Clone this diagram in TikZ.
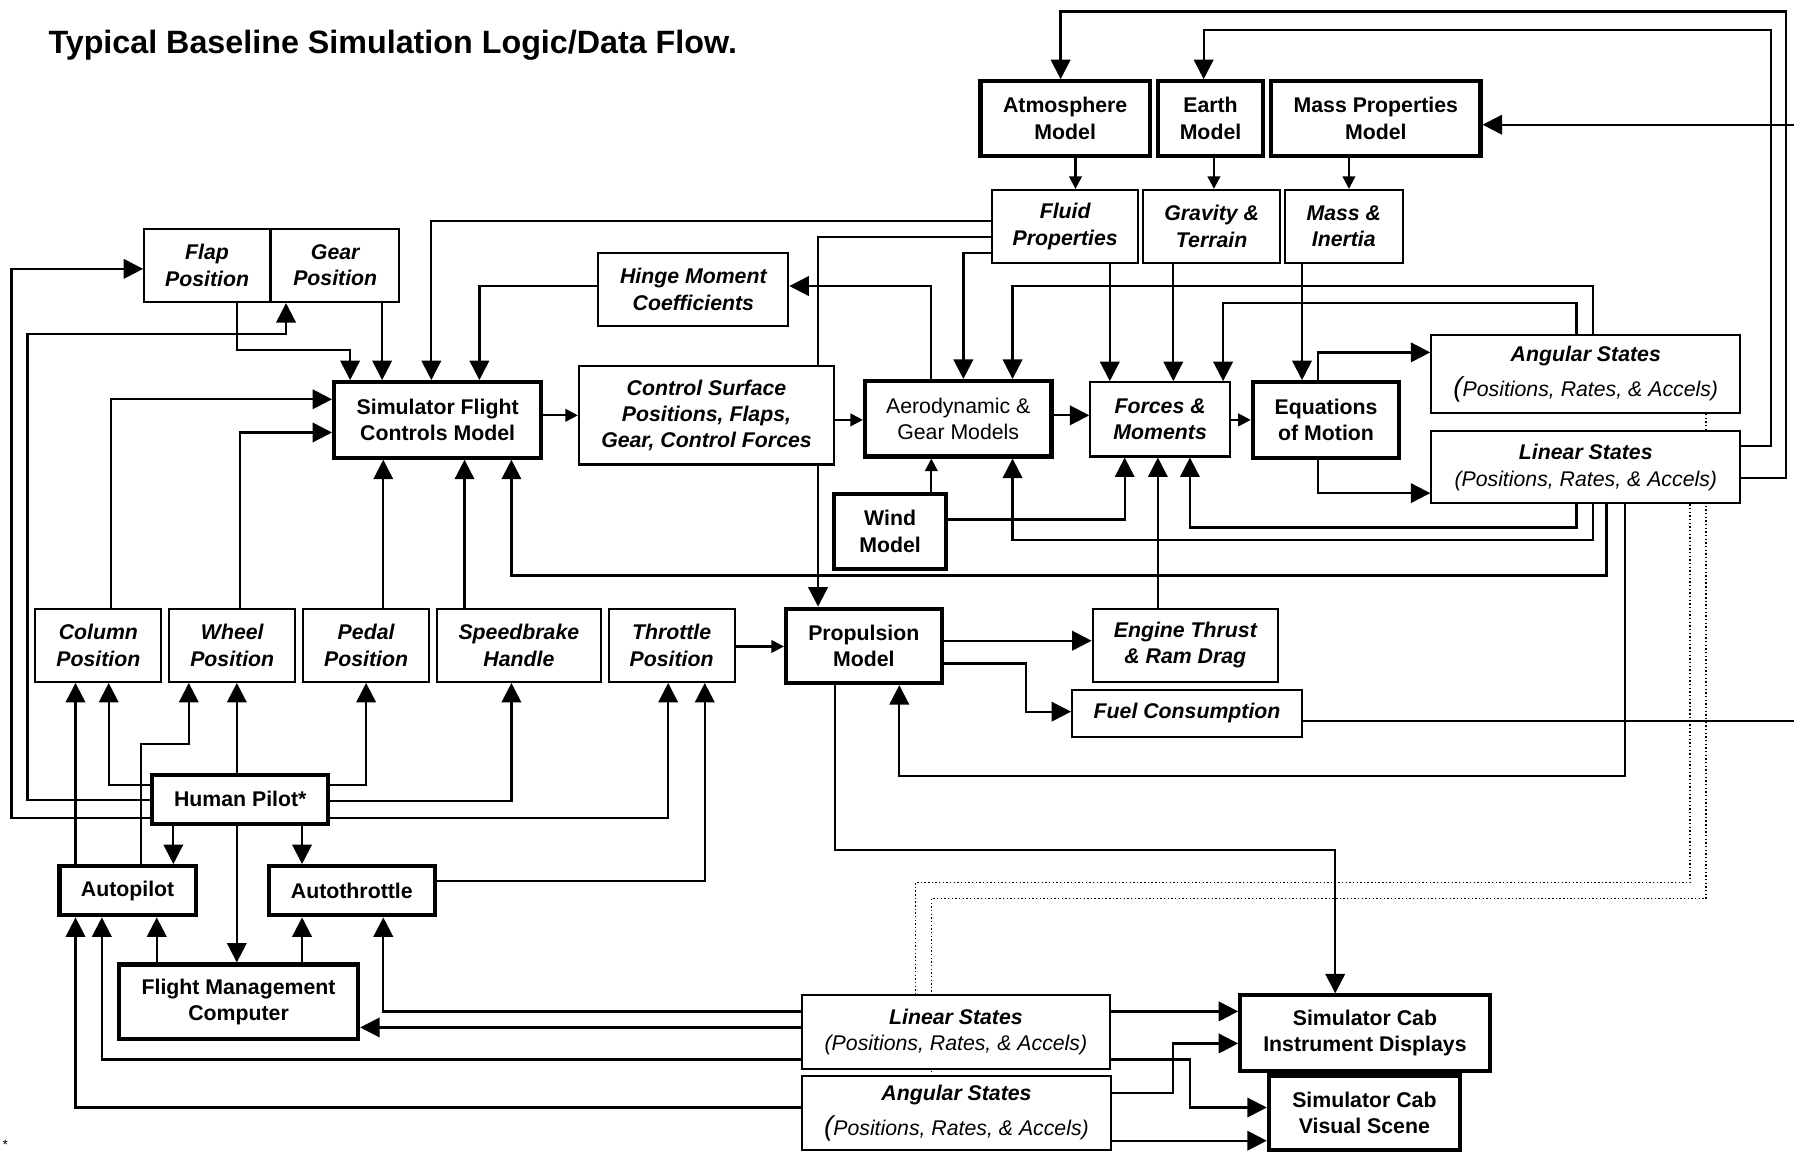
\documentclass[tikz,border=0pt]{standalone}
\usepackage{fontspec}
\setmainfont{Liberation Sans}
\usetikzlibrary{arrows.meta,calc}
\pgfdeclarelayer{bg}
\pgfsetlayers{bg,main}
\begin{document}
\begin{tikzpicture}[x=0.5pt,y=-0.5pt,
  box/.style={draw, fill=white, inner sep=0pt, align=center, font=\fontsize{9.3}{11.5}\selectfont},
  tbox/.style={box, line width=0.9pt},
  kbox/.style={box, line width=1.8pt},
  bb/.style={font=\fontsize{9.3}{11.5}\selectfont\bfseries},
  bi/.style={font=\fontsize{9.3}{11.5}\selectfont\bfseries\itshape},
  sz/.style 2 args={minimum width=#1*0.5pt, minimum height=#2*0.5pt},
  con/.style={line width=1pt},
  larr/.style={con, -{Triangle[length=8.5pt,width=8.5pt]}},
  sarr/.style={con, -{Triangle[length=5.5pt,width=5.5pt]}},
  dotl/.style={line width=0.6pt, densely dotted}]
\useasboundingbox (0,0) rectangle (1568,1007);

\node[anchor=base west, inner sep=0pt, font=\fontsize{14.1}{16}\selectfont\bfseries] (title) at (42,47) {Typical Baseline Simulation Logic/Data Flow.};
\node[anchor=north west, inner sep=0pt, font=\fontsize{6}{6}\selectfont] (fn) at (2,996) {*};

% top row
\node[kbox,bb,sz={148}{65}] (atm) at (931,103.5) {Atmosphere\\Model};
\node[kbox,bb,sz={92}{65}] (earth) at (1058,103.5) {Earth\\Model};
\node[kbox,bb,sz={183}{65}] (massp) at (1202.5,103.5) {Mass Properties\\Model};
\node[tbox,bi,sz={128}{64}] (fluid) at (931,198) {Fluid\\Properties};
\node[tbox,bi,sz={120}{64}] (grav) at (1059,198) {Gravity \&\\Terrain};
\node[tbox,bi,sz={103}{64}] (massi) at (1174.5,198) {Mass \&\\Inertia};

\node[tbox,bi,sz={110}{64}] (flap) at (181,232) {Flap\\Position};
\node[tbox,bi,sz={112}{64}] (gear) at (293,232) {Gear\\Position};
\node[tbox,bi,sz={166}{64}] (hinge) at (606,253) {Hinge Moment\\Coefficients};

\node[kbox,bb,sz={181}{66}] (sfcm) at (382.5,367) {Simulator Flight\\Controls Model};
\node[tbox,bi,sz={223}{86}] (cs) at (617.5,363) {Control Surface\\Positions, Flaps,\\Gear, Control Forces};
\node[kbox,sz={163}{66}] (aero) at (837.5,366) {Aerodynamic \&\\Gear Models};
\node[tbox,bi,sz={122}{65}] (forces) at (1014,366.5) {Forces \&\\Moments};
\node[kbox,bb,sz={128}{66}] (eom) at (1159,367) {Equations\\of Motion};
\node[tbox,sz={270}{68}] (angT) at (1386,327) {{\bfseries\itshape Angular States}\\[3.5pt]{\itshape{\fontsize{12}{12}\selectfont(}Positions, Rates, \& Accels)}};
\node[tbox,sz={270}{63}] (linT) at (1386,408.5) {{\bfseries\itshape Linear States}\\{\itshape (Positions, Rates, \& Accels)}};
\node[kbox,bb,sz={98}{65}] (wind) at (778,464.5) {Wind\\Model};

\node[tbox,bi,sz={110}{64}] (col) at (86,564) {Column\\Position};
\node[tbox,bi,sz={110}{64}] (wheel) at (203,564) {Wheel\\Position};
\node[tbox,bi,sz={110}{64}] (pedal) at (320,564) {Pedal\\Position};
\node[tbox,bi,sz={143}{64}] (speed) at (453.5,564) {Speedbrake\\Handle};
\node[tbox,bi,sz={110}{64}] (throttle) at (587,564) {Throttle\\Position};
\node[kbox,bb,sz={136}{65}] (prop) at (755,564.5) {Propulsion\\Model};
\node[tbox,bi,sz={162}{64}] (engine) at (1036,564) {Engine Thrust\\\& Ram Drag};
\node[tbox,bi,sz={201}{41}] (fuel) at (1037.5,623.5) {Fuel Consumption};

\node[kbox,bb,sz={154}{43}] (pilot) at (210,698.5) {Human Pilot*};
\node[kbox,bb,sz={119}{43}] (autop) at (111.5,778.5) {Autopilot};
\node[kbox,bb,sz={145}{43}] (autot) at (307.5,778.5) {Autothrottle};
\node[kbox,bb,sz={209}{65}] (fmc) at (208.5,875.5) {Flight Management\\Computer};

\node[tbox,sz={269}{64}] (linB) at (835.5,902) {{\bfseries\itshape Linear States}\\{\itshape (Positions, Rates, \& Accels)}};
\node[tbox,sz={270}{65}] (angB) at (836,973) {{\bfseries\itshape Angular States}\\[3.5pt]{\itshape{\fontsize{12}{12}\selectfont(}Positions, Rates, \& Accels)}};
\node[kbox,bb,sz={218}{66}] (cabI) at (1193,903) {Simulator Cab\\Instrument Displays};
\node[kbox,bb,sz={167}{65}] (cabV) at (1192.5,972.5) {Simulator Cab\\Visual Scene};

\begin{pgfonlayer}{bg}
% top models
\draw[sarr] (atm.south -| 940,0) -- (fluid.north -| 940,0);
\draw[sarr] (earth.south -| 1061,0) -- (grav.north -| 1061,0);
\draw[sarr] (massp.south -| 1179,0) -- (massi.north -| 1179,0);
\draw[larr] (linT.east |- 0,418) -- (1561,418) -- (1561,10) -- (927,10) -- (atm.north -| 927,0);
\draw[larr] (linT.east |- 0,390) -- (1548,390) -- (1548,26) -- (1052,26) -- (earth.north -| 1052,0);
\draw[larr] (1568,109) -- (massp.east |- 0,109);
\draw[con] (fuel.east |- 0,630) -- (1568,630);
% flap / gear
\draw[larr] (pilot.west |- 0,715) -- (10,715) -- (10,235) -- (flap.west |- 0,235);
\draw[larr] (pilot.west |- 0,699) -- (24,699) -- (24,292) -- (250,292) -- (gear.south -| 250,0);
\draw[larr] (flap.south -| 207,0) -- (207,306) -- (306,306) -- (sfcm.north -| 306,0);
\draw[larr] (gear.south -| 334,0) -- (sfcm.north -| 334,0);
\draw[larr] (fluid.west |- 0,193) -- (377,193) -- (sfcm.north -| 377,0);
\draw[larr] (hinge.west |- 0,250) -- (419,250) -- (sfcm.north -| 419,0);
% flight controls inputs
\draw[larr] (col.north -| 97,0) -- (97,349) -- (sfcm.west |- 0,349);
\draw[larr] (wheel.north -| 210,0) -- (210,378) -- (sfcm.west |- 0,378);
\draw[larr] (pedal.north -| 335,0) -- (sfcm.south -| 335,0);
\draw[larr] (speed.north -| 406,0) -- (sfcm.south -| 406,0);
\draw[larr] (linT.south -| 1404,0) -- (1404,503) -- (447,503) -- (sfcm.south -| 447,0);
\draw[sarr] (sfcm.east |- 0,363) -- (cs.west |- 0,363);
\draw[sarr] (cs.east |- 0,367) -- (aero.west |- 0,367);
% fluid properties
\draw[larr] (fluid.west |- 0,207) -- (715,207) -- (prop.north -| 715,0);
\draw[larr] (fluid.west |- 0,221) -- (842,221) -- (aero.north -| 842,0);
\draw[larr] (aero.north -| 814,0) -- (814,250) -- (hinge.east |- 0,250);
\draw[larr] (angT.north -| 1392,0) -- (1392,250) -- (885,250) -- (aero.north -| 885,0);
\draw[larr] (angT.north -| 1378,0) -- (1378,265) -- (1069,265) -- (forces.north -| 1069,0);
\draw[larr] (fluid.south -| 970,0) -- (forces.north -| 970,0);
\draw[larr] (grav.south -| 1025.5,0) -- (forces.north -| 1025.5,0);
\draw[larr] (massi.south -| 1138,0) -- (eom.north -| 1138,0);
\draw[larr] (aero.east |- 0,363) -- (forces.west |- 0,363);
\draw[sarr] (forces.east |- 0,367) -- (eom.west |- 0,367);
\draw[larr] (eom.north -| 1152,0) -- (1152,308) -- (angT.west |- 0,308);
\draw[larr] (eom.south -| 1152,0) -- (1152,431) -- (linT.west |- 0,431);
\draw[sarr] (wind.north -| 814,0) -- (aero.south -| 814,0);
\draw[larr] (wind.east |- 0,454) -- (983,454) -- (forces.south -| 983,0);
\draw[larr] (engine.north -| 1012,0) -- (forces.south -| 1012,0);
\draw[larr] (linT.south -| 1378,0) -- (1378,461) -- (1040,461) -- (forces.south -| 1040,0);
\draw[larr] (linT.south -| 1392,0) -- (1392,472) -- (885,472) -- (aero.south -| 885,0);
\draw[larr] (linT.south -| 1420,0) -- (1420,678) -- (786,678) -- (prop.south -| 786,0);
% propulsion
\draw[sarr] (throttle.east |- 0,565) -- (prop.west |- 0,565);
\draw[larr] (prop.east |- 0,560) -- (engine.west |- 0,560);
\draw[larr] (prop.east |- 0,580) -- (897,580) -- (897,622) -- (fuel.west |- 0,622);
\draw[larr] (prop.south -| 730,0) -- (730,743) -- (1167,743) -- (cabI.north -| 1167,0);
% pilot
\draw[larr] (pilot.west |- 0,686) -- (95,686) -- (col.south -| 95,0);
\draw[larr] (autop.north -| 66,0) -- (col.south -| 66,0);
\draw[larr] (autop.north -| 123,0) -- (123,650) -- (165,650) -- (wheel.south -| 165,0);
\draw[larr] (pilot.north -| 207,0) -- (wheel.south -| 207,0);
\draw[larr] (pilot.east |- 0,686) -- (320,686) -- (pedal.south -| 320,0);
\draw[larr] (pilot.east |- 0,700) -- (447,700) -- (speed.south -| 447,0);
\draw[larr] (pilot.east |- 0,715) -- (584,715) -- (throttle.south -| 584,0);
\draw[larr] (autot.east |- 0,770) -- (616,770) -- (throttle.south -| 616,0);
\draw[larr] (pilot.south -| 151.5,0) -- (autop.north -| 151.5,0);
\draw[larr] (pilot.south -| 264,0) -- (autot.north -| 264,0);
\draw[larr] (pilot.south -| 207,0) -- (fmc.north -| 207,0);
\draw[larr] (fmc.north -| 137,0) -- (autop.south -| 137,0);
\draw[larr] (fmc.north -| 264,0) -- (autot.south -| 264,0);
% bottom states
\draw[larr] (linB.west |- 0,884) -- (335,884) -- (autot.south -| 335,0);
\draw[larr] (linB.west |- 0,898) -- (fmc.east |- 0,898);
\draw[larr] (linB.west |- 0,926) -- (89,926) -- (autop.south -| 89,0);
\draw[larr] (angB.west |- 0,968) -- (66,968) -- (autop.south -| 66,0);
\draw[larr] (linB.east |- 0,884) -- (cabI.west |- 0,884);
\draw[larr] (linB.east |- 0,926) -- (1040,926) -- (1040,968) -- (cabV.west |- 0,968);
\draw[larr] (angB.east |- 0,955) -- (1025,955) -- (1025,912) -- (cabI.west |- 0,912);
\draw[larr] (angB.east |- 0,997) -- (cabV.west |- 0,997);
% dotted state links
\draw[dotl] (linT.south -| 1477,0) -- (1477,771.5) -- (800,771.5) -- (linB.north -| 800,0);
\draw[dotl] (angT.south -| 1491,0) -- (1491,785.5) -- (814,785.5) -- (angB.north -| 814,0);
\end{pgfonlayer}
\end{tikzpicture}
\end{document}
